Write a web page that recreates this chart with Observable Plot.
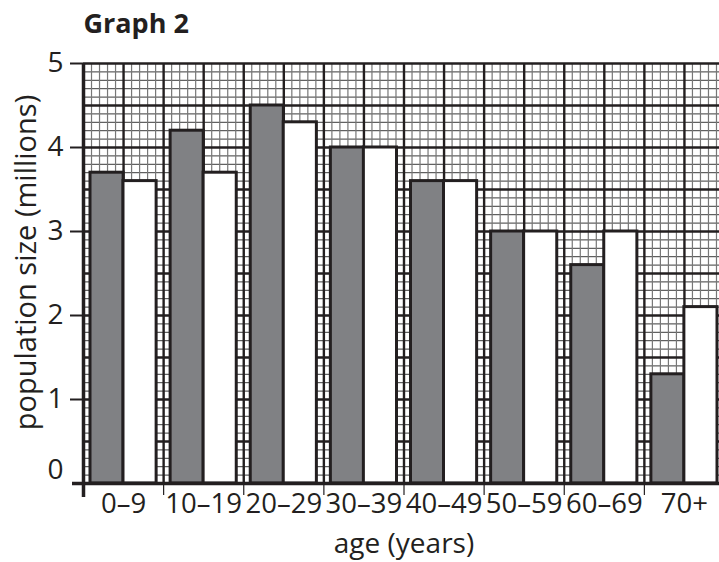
<!DOCTYPE html>
<html>
<head>
<meta charset="utf-8">
<script src="https://cdn.jsdelivr.net/npm/d3@7"></script>
<script src="https://cdn.jsdelivr.net/npm/@observablehq/plot@0.6"></script>
<style>
  html, body { margin: 0; padding: 0; background: #fff; }
  #chart svg { display: block; }
</style>
</head>
<body>
<div id="chart"></div>
<script>
// Data
const ages = ["0–9", "10–19", "20–29", "30–39", "40–49", "50–59", "60–69", "70+"];
const darkValues = [3.7, 4.2, 4.5, 4.0, 3.6, 3.0, 2.6, 1.3];
const whiteValues = [3.6, 3.7, 4.3, 4.0, 3.6, 3.0, 3.0, 2.1];
const yTicks = [1, 2, 3, 4, 5];
const yZero = [0];

const title = "Graph 2";
const yTitle = "population size (millions)";
const xTitle = "age (years)";

// graph-paper grid: minor every 0.1, major every 0.5
const minorX = d3.range(0, 81).map(k => k / 10).filter(v => Math.round(v * 10) % 5 !== 0);
const majorX = d3.range(0, 17).map(k => k / 2);
const minorY = d3.range(0, 51).map(k => k / 10).filter(v => Math.round(v * 10) % 5 !== 0);
const majorY = d3.range(0, 11).map(k => k / 2);

const ink = "#231f20";
const font = "'Open Sans', sans-serif";

const chart = Plot.plot({
  width: 719,
  height: 562,
  marginLeft: 83,
  marginRight: -5,
  marginTop: 63,
  marginBottom: 79,
  x: {domain: [0, ages.length], axis: null},
  y: {domain: [0, 5], axis: null},
  style: {fontFamily: font, color: ink, background: "#fff"},
  marks: [
    // grid paper
    Plot.ruleY(minorY, {stroke: "#3a3a3a", strokeWidth: 1}),
    Plot.ruleX(minorX, {stroke: "#777", strokeWidth: 1.2}),
    Plot.ruleY(majorY, {stroke: ink, strokeWidth: 2.4}),
    Plot.ruleX(majorX, {stroke: ink, strokeWidth: 2.4}),
    // bars
    Plot.rectY(ages, {
      x1: (d, i) => i, x2: (d, i) => i + 1,
      y1: 0, y2: (d, i) => darkValues[i],
      insetLeft: 7, insetRight: 40,
      fill: "#808184", stroke: ink, strokeWidth: 3
    }),
    Plot.rectY(ages, {
      x1: (d, i) => i, x2: (d, i) => i + 1,
      y1: 0, y2: (d, i) => whiteValues[i],
      insetLeft: 40, insetRight: 7,
      fill: "#fff", stroke: ink, strokeWidth: 3
    }),
    // axis lines
    Plot.ruleY(yZero, {stroke: ink, strokeWidth: 3.5, insetLeft: -11}),
    Plot.ruleX(yZero, {stroke: ink, strokeWidth: 3.5, insetBottom: -14}),
    // y axis
    Plot.axisY({
      ticks: yTicks, tickSize: 13, tickPadding: 7, strokeWidth: 2,
      tickFormat: d => String(d),
      fontSize: 28, label: null, stroke: ink, fill: ink
    }),
    Plot.text(yZero, {
      y: d => d, frameAnchor: "left", dx: -20, dy: -13,
      text: d => String(d), textAnchor: "end", fontSize: 28, fill: ink
    }),
    // x axis: boundary ticks and centred labels
    Plot.axisX({
      ticks: d3.range(1, ages.length), tickSize: 12, tickFormat: () => "",
      strokeWidth: 1.2, stroke: ink, label: null
    }),
    Plot.axisX({
      ticks: d3.range(ages.length).map(i => i + 0.5), tickSize: 0, tickPadding: 10,
      tickFormat: t => ages[Math.floor(t)], fontSize: 27.5, fill: ink, label: null
    }),
    // titles
    Plot.text([title], {
      frameAnchor: "top-left", lineAnchor: "middle", dy: -39, textAnchor: "start",
      fontSize: 27, fontWeight: "bold", fill: ink
    }),
    Plot.text([yTitle], {
      frameAnchor: "left", textAnchor: "middle", lineAnchor: "middle", rotate: -90, dx: -57, dy: -11,
      fontSize: 29, fill: ink
    }),
    Plot.text([xTitle], {
      frameAnchor: "bottom", textAnchor: "middle", lineAnchor: "middle", dy: 61, fontSize: 28, fill: ink
    })
  ]
});
document.getElementById("chart").append(chart);
</script>
</body>
</html>
